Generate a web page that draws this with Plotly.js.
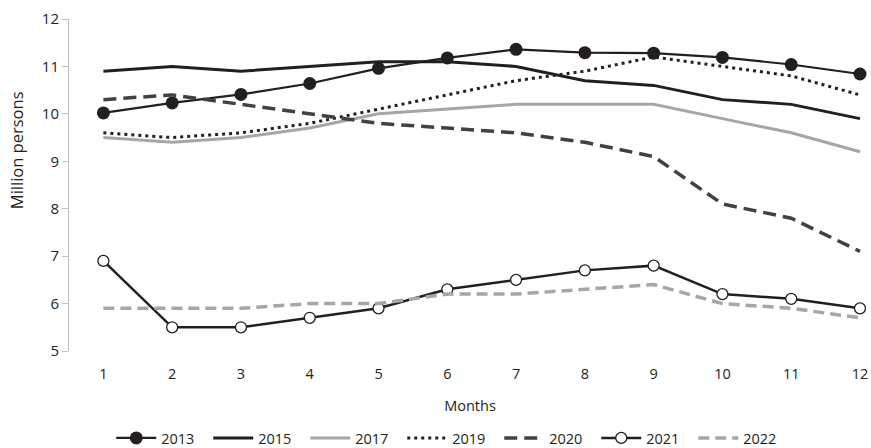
<!DOCTYPE html>
<html><head><meta charset="utf-8">
<script src="https://cdn.plot.ly/plotly-3.0.1.min.js"></script>
<style>html,body{margin:0;padding:0;background:#fff}#c{width:871px;height:448px}</style>
</head><body><div id="c"></div>
<script>
const months = [1,2,3,4,5,6,7,8,9,10,11,12];
const y2013 = [10.02,10.23,10.41,10.64,10.96,11.18,11.36,11.29,11.28,11.19,11.04,10.84];
const y2015 = [10.9,11.0,10.9,11.0,11.1,11.1,11.0,10.7,10.6,10.3,10.2,9.9];
const y2017 = [9.5,9.4,9.5,9.7,10.0,10.1,10.2,10.2,10.2,9.9,9.6,9.2];
const y2019 = [9.6,9.5,9.6,9.8,10.1,10.4,10.7,10.9,11.2,11.0,10.8,10.4];
const y2020 = [10.3,10.4,10.2,10.0,9.8,9.7,9.6,9.4,9.1,8.1,7.8,7.1];
const y2021 = [6.9,5.5,5.5,5.7,5.9,6.3,6.5,6.7,6.8,6.2,6.1,5.9];
const y2022 = [5.9,5.9,5.9,6.0,6.0,6.2,6.2,6.3,6.4,6.0,5.9,5.7];
const yTicks = [5,6,7,8,9,10,11,12];
const yTitle = 'Million persons';

const black = '#231f20';
const traces = [
  {name:'2013', y:y2013, mode:'lines+markers', line:{color:black,width:2.2}, marker:{color:black,size:13,symbol:'circle'}},
  {name:'2015', y:y2015, mode:'lines', line:{color:black,width:3}},
  {name:'2017', y:y2017, mode:'lines', line:{color:'#a6a6a6',width:3}},
  {name:'2019', y:y2019, mode:'lines', line:{color:black,width:3,dash:'3px,4px'}},
  {name:'2020', y:y2020, mode:'lines', line:{color:'#414042',width:3.5,dash:'13px,7px'}},
  {name:'2021', y:y2021, mode:'lines+markers', line:{color:black,width:2.5}, marker:{color:'#ffffff',size:11,symbol:'circle',line:{color:black,width:1.3}}},
  {name:'2022', y:y2022, mode:'lines', line:{color:'#a6a6a6',width:3.5,dash:'11px,6px'}}
].map(t => Object.assign({x:months, type:'scatter', cliponaxis:false}, t));

const font = {family:'"Open Sans", "Noto Sans", sans-serif', color:'#231f20', size:14};
const layout = {
  width:871, height:448,
  margin:{l:69, r:0, t:19, b:97, autoexpand:false},
  paper_bgcolor:'#fff', plot_bgcolor:'#fff',
  font: font,
  showlegend:true,
  legend:{orientation:'h', x:0.476, xanchor:'center', y:-0.262, yanchor:'middle', font:{size:14.5}, itemwidth:40, traceorder:'normal', entrywidth:42},
  xaxis:{range:[0.5,12.16], tickvals:months, ticktext:months.map(String), showgrid:false, zeroline:false, showline:false,
         ticks:'outside', ticklen:10, tickcolor:'rgba(0,0,0,0)', tickfont:{size:14.5},
         title:{text:'Months', font:{size:14.5}, standoff:18}},
  yaxis:{range:[5,12], tickvals:yTicks, showgrid:false, zeroline:false, showline:true, linecolor:'#bfbfbf', linewidth:1,
         ticks:'outside', ticklen:6, tickcolor:'#bfbfbf', tickfont:{size:15}},
  annotations:[{text:yTitle, textangle:-90, xref:'paper', yref:'paper', x:-0.066, y:0.605, xanchor:'center', yanchor:'middle',
                showarrow:false, font:{size:16.5}}]
};
Plotly.newPlot('c', traces, layout, {displayModeBar:false, staticPlot:true});
</script></body></html>
